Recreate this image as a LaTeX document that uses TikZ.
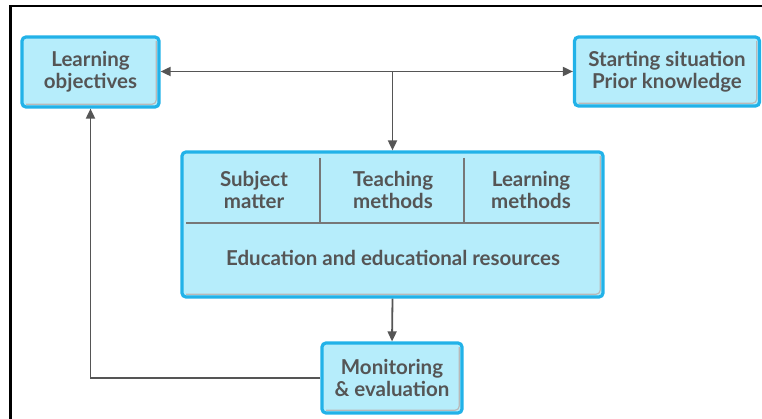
\documentclass[tikz,border=0pt]{standalone}
\usepackage{fontspec}
\setmainfont{Lato}
\usetikzlibrary{arrows.meta}

\definecolor{boxfill}{HTML}{B6EDFB}
\definecolor{boxline}{HTML}{22B2E8}
\definecolor{inkgray}{HTML}{555555}

\tikzset{
  box/.style={draw=boxline, fill=boxfill, line width=3.2pt, rounded corners=4pt,
    align=center, text=inkgray, font=\fontsize{20.5}{22}\selectfont\bfseries,
    inner sep=0pt,
    path picture={
      \draw[gray!55, line width=1.2pt]
        ([xshift=4pt,yshift=2.8pt]path picture bounding box.south west)
        -- ([xshift=-2.8pt,yshift=2.8pt]path picture bounding box.south east)
        -- ([xshift=-2.8pt,yshift=-4pt]path picture bounding box.north east);
    }},
  cell/.style={align=center, text=inkgray, font=\fontsize{20.5}{22}\selectfont\bfseries, inner sep=0pt},
  arr/.style={draw=inkgray, line width=1.8pt, -{Triangle[length=10pt,width=9pt]}},
  divider/.style={draw=inkgray!80, line width=1.4pt}
}

\begin{document}
\begin{tikzpicture}[x=1pt, y=-1pt]
  \useasboundingbox (0,0) rectangle (762,419);

  % frame of the scan
  \draw[line width=2.6pt] (10.5,419) -- (10.5,6) -- (762,6);

  % outer boxes
  \node[box, minimum width=137pt, minimum height=70pt] (obj) at (90.5,72) {Learning\\objectives};
  \node[box, minimum width=185pt, minimum height=69pt] (start) at (667,71.5) {Starting situation\\Prior knowledge};
  \node[box, minimum width=140pt, minimum height=70pt] (mon) at (392,378) {Monitoring\\\& evaluation};

  % central block
  \node[box, minimum width=421pt, minimum height=145pt] (core) at (392.5,224.5) {};
  \node[cell] (subject) at (254,190) {Subject\\matter};
  \node[cell] (teaching) at (393,190) {Teaching\\methods};
  \node[cell] (learning) at (531,190) {Learning\\methods};
  \node[cell] (edu) at (393,258) {Education and educational resources};

  \coordinate (d1top) at (320,158);
  \coordinate (d1bot) at (320,223);
  \coordinate (d2top) at (464,158);
  \coordinate (d2bot) at (464,223);
  \coordinate (rowl) at (186,223);
  \coordinate (rowr) at (599,223);
  \draw[divider] (d1top) -- (d1bot);
  \draw[divider] (d2top) -- (d2bot);
  \draw[divider] (rowl) -- (rowr);

  % connectors
  \coordinate (hub) at (392.5,71.5);
  \draw[arr, {Triangle[length=10pt,width=9pt]}-{Triangle[length=10pt,width=9pt]}] (obj.east |- hub) -- (start.west |- hub);
  \draw[arr] (hub) -- (core.north);
  \draw[arr] (core.south) -- (mon.north);
  \draw[arr] (mon.west) -| (obj.south);

\end{tikzpicture}
\end{document}
